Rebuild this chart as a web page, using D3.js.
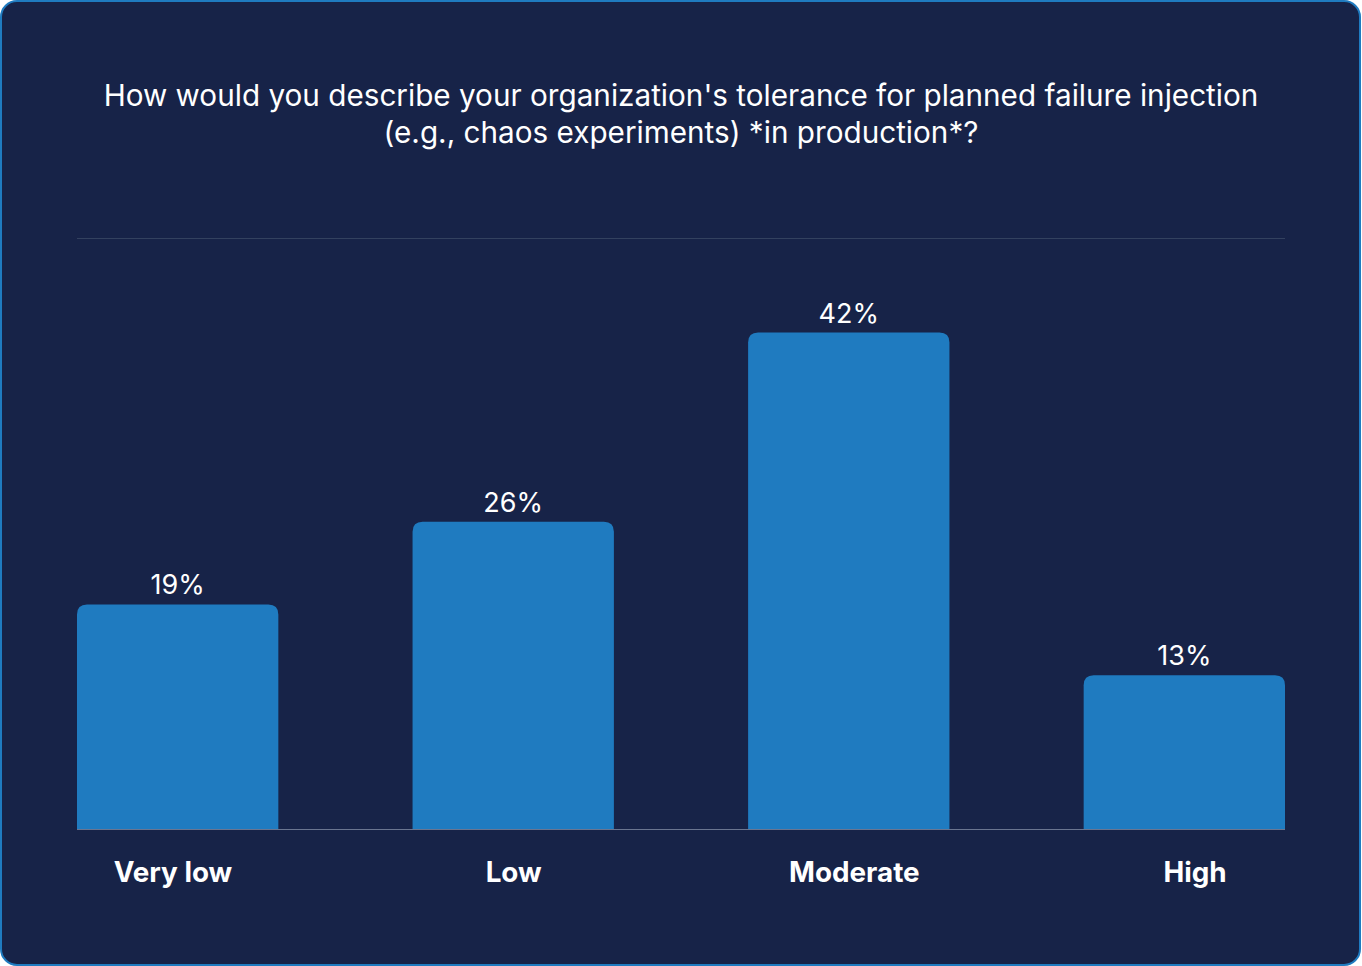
<!DOCTYPE html>
<html>
<head>
<meta charset="utf-8">
<script src="https://cdn.jsdelivr.net/npm/d3@7"></script>
<style>
  html, body { margin: 0; padding: 0; background: #ffffff; }
  svg { display: block; }
</style>
</head>
<body>
<svg id="chart"></svg>
<script>
const categories = ["Very low", "Low", "Moderate", "High"];
const values = [19, 26, 42, 13];
const titleLines = [
  "How would you describe your organization's tolerance for planned failure injection",
  "(e.g., chaos experiments) *in production*?"
];

const width = 1362;
const height = 966;
const margin = { top: 238, right: 77, bottom: 137, left: 77 };

const svg = d3.select("#chart")
  .attr("width", width)
  .attr("height", height)
  .style("font-family", "Inter, 'Noto Sans', sans-serif");

// card
svg.append("rect")
  .attr("x", 1)
  .attr("y", 1)
  .attr("width", width - 3)
  .attr("height", height - 2)
  .attr("rx", 16)
  .attr("fill", "#172348")
  .attr("stroke", "#1f7bc0")
  .attr("stroke-width", 2);

// title
svg.append("text")
  .attr("text-anchor", "middle")
  .attr("fill", "#ffffff")
  .style("font-size", "29.7px")
  .selectAll("tspan")
  .data(titleLines)
  .enter()
  .append("tspan")
  .attr("x", 681)
  .attr("y", (d, i) => 106 + i * 37)
  .text(d => d);

const x = d3.scaleBand()
  .domain(categories)
  .range([margin.left, width - margin.right])
  .paddingInner(0.4)
  .paddingOuter(0);

// category labels sit on a slightly wider spacing than the bars
const labelX = d3.scalePoint()
  .domain(categories)
  .range([173, 1195]);

const y = d3.scaleLinear()
  .domain([0, 50])
  .range([height - margin.bottom, margin.top]);

// gridline at top
svg.append("g")
  .selectAll("line")
  .data([50])
  .enter()
  .append("line")
  .attr("x1", margin.left)
  .attr("x2", width - margin.right)
  .attr("y1", d => y(d) + 0.5)
  .attr("y2", d => y(d) + 0.5)
  .attr("stroke", "#33415f")
  .attr("stroke-width", 1);

// baseline
svg.append("line")
  .attr("x1", margin.left)
  .attr("x2", width - margin.right)
  .attr("y1", y(0) + 0.5)
  .attr("y2", y(0) + 0.5)
  .attr("stroke", "#6a7590")
  .attr("stroke-width", 1);

const r = 10;
const barPath = (d, i) => {
  const x0 = x(categories[i]);
  const w = x.bandwidth();
  const y0 = y(d);
  const y1 = y(0);
  return `M${x0},${y1}V${y0 + r}Q${x0},${y0} ${x0 + r},${y0}H${x0 + w - r}Q${x0 + w},${y0} ${x0 + w},${y0 + r}V${y1}Z`;
};

svg.append("g")
  .selectAll("path")
  .data(values)
  .enter()
  .append("path")
  .attr("d", barPath)
  .attr("fill", "#1f7bc0");

// value labels
svg.append("g")
  .selectAll("text")
  .data(values)
  .enter()
  .append("text")
  .attr("x", (d, i) => x(categories[i]) + x.bandwidth() / 2)
  .attr("y", d => y(d) - 10)
  .attr("text-anchor", "middle")
  .attr("fill", "#ffffff")
  .style("font-size", "27px")
  .text(d => d + "%");

// category labels
svg.append("g")
  .selectAll("text")
  .data(categories)
  .enter()
  .append("text")
  .attr("x", d => labelX(d))
  .attr("y", y(0) + 53)
  .attr("text-anchor", "middle")
  .attr("fill", "#ffffff")
  .style("font-size", "27.8px")
  .style("font-weight", "700")
  .text(d => d);
</script>
</body>
</html>
